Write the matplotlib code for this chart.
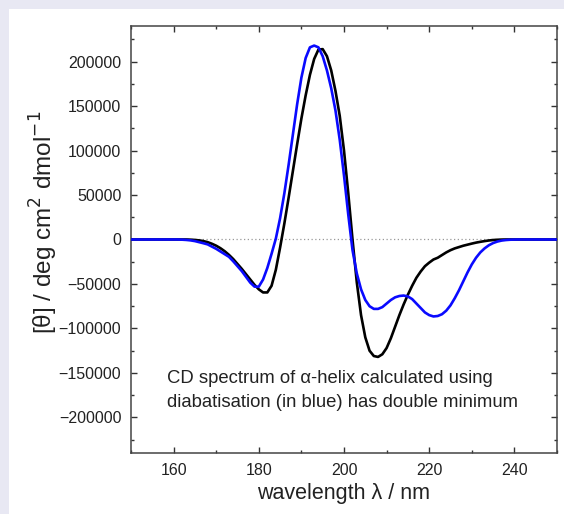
import matplotlib
matplotlib.use("Agg")
import matplotlib.pyplot as plt
from matplotlib.ticker import MultipleLocator
from matplotlib.patches import Rectangle

plt.rcParams['font.family'] = ['Liberation Sans', 'DejaVu Sans']

wavelength = list(range(150, 251))

# standard calculation (black)
theta_black = (
    [0] * 14 +  # 150-163
    [-200, -500, -1000, -1800, -3000, -4800, -7000, -9800, -13200, -17300,   # 164-173
     -22000, -27500, -33000, -39000, -45000, -51000, -56000, -59500, -59500, -52000,  # 174-183
     -34000, -9000, 18000, 47000, 77000, 107000, 136000, 162000, 185000, 203000,  # 184-193
     213500, 214000, 206000, 190000, 167000, 139000, 100000, 52000, 0, -48000,  # 194-203
     -85000, -110000, -125000, -131000, -132000, -129000, -122000, -111000, -98000, -85000,  # 204-213
     -73000, -62000, -52000, -43000, -36000, -30000, -26000, -22500, -20500, -17500,  # 214-223
     -14500, -12000, -10000, -8500, -7000, -5800, -4600, -3500, -2600, -1800,  # 224-233
     -1100, -600, -300, -100] +  # 234-237
    [0] * 13  # 238-250
)

# diabatisation (blue)
theta_blue = (
    [0] * 12 +  # 150-161
    [-200, -500, -1000, -1800, -3000, -4200, -5500, -8000, -10500, -13500,  # 162-171
     -16500, -19500, -24500, -30000, -35500, -42000, -48500, -53000, -53000, -45000,  # 172-181
     -32000, -16000, 1000, 24000, 52000, 84000, 118000, 152000, 182000, 204000,  # 182-191
     216000, 218000, 216000, 206000, 190000, 170000, 145000, 112000, 72000, 28000,  # 192-201
     -12000, -38000, -56000, -68000, -75000, -78000, -78000, -76000, -72000, -68000,  # 202-211
     -65000, -63500, -63000, -64000, -67000, -72000, -77000, -82000, -85000, -86500,  # 212-221
     -86000, -84000, -80000, -74000, -66000, -57000, -47000, -37000, -28000, -20500,  # 222-231
     -14500, -10000, -6500, -4000, -2300, -1200, -600, -250, -100] +  # 232-240
    [0] * 10  # 241-250
)

xticks = [160, 180, 200, 220, 240]
yticks = [-200000, -150000, -100000, -50000, 0, 50000, 100000, 150000, 200000]
note = "CD spectrum of \u03b1-helix calculated using\ndiabatisation (in blue) has double minimum"

fig = plt.figure(figsize=(5.64, 5.14), dpi=100, facecolor='#e8e8f3')
fig.patches.append(Rectangle((9 / 564, 0), 1, 1 - 9 / 514, transform=fig.transFigure,
                             facecolor='white', edgecolor='none', zorder=-10))
ax = fig.add_axes([131 / 564, 1 - 453 / 514, (557 - 131) / 564, (453 - 26) / 514])

ax.axhline(0, color='#999999', lw=0.9, ls=(0, (1, 2)), zorder=1)
ax.plot(wavelength, theta_black, color='black', lw=1.9, zorder=3)
ax.plot(wavelength, theta_blue, color='#0a0aff', lw=1.9, zorder=4)

ax.set_xlim(150, 250)
ax.set_ylim(-240000, 240000)
ax.set_xticks(xticks)
ax.set_yticks(yticks)
ax.xaxis.set_minor_locator(MultipleLocator(10))
ax.yaxis.set_minor_locator(MultipleLocator(25000))
ax.tick_params(which='both', direction='in', top=True, right=True, colors='#333333',
               labelcolor='#222222', labelsize=11.5, width=1.0)
ax.tick_params(which='major', length=4.5, pad=7)
ax.tick_params(which='minor', length=2.5)
for s in ax.spines.values():
    s.set_color('#444444')
    s.set_linewidth(1.1)

ax.set_xlabel("wavelength \u03bb / nm", fontsize=15.5, color='#222222', labelpad=4)
fig.text(44 / 564, 1 - 222 / 514, "[\u03b8] / deg cm$^2$ dmol$^{-1}$", rotation=90,
         ha='center', va='center', fontsize=17.5, color='#222222')

ax.text(158.4, -147000, note, ha='left', va='top', fontsize=13.3, color='#222222',
        linespacing=1.5)

fig.savefig("out.png", dpi=100, facecolor=fig.get_facecolor())
